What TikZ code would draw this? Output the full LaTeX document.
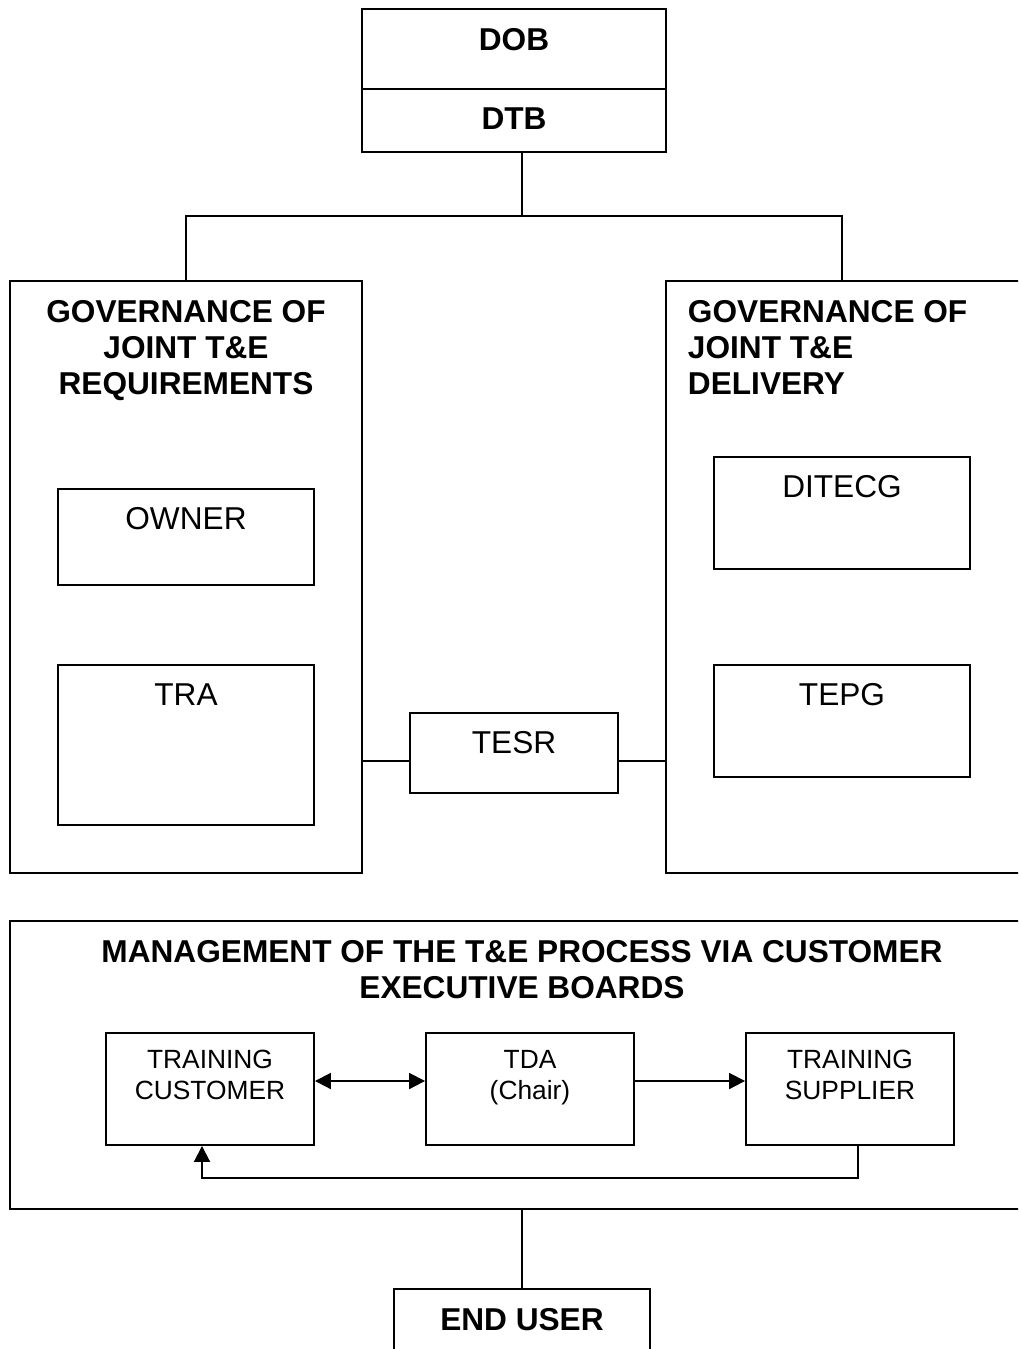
\documentclass[tikz,border=0pt]{standalone}
\usepackage{fontspec}
\setmainfont{Liberation Sans}
\usetikzlibrary{positioning,arrows.meta,calc}

\begin{document}
\begin{tikzpicture}[x=0.02cm,y=-0.02cm,line width=1.1pt,
  >={Triangle[length=0.32cm,width=0.32cm]},
  box/.style={draw,inner sep=0pt},
  bighead/.style={font=\bfseries\fontsize{18}{20.7}\selectfont,inner sep=0pt},
  plain/.style={font=\fontsize{18}{20.7}\selectfont,inner sep=0pt},
  small/.style={font=\fontsize{15}{17.6}\selectfont,inner sep=0pt,align=center}]
\clip (0,0) rectangle (1018,1349);
% top boards
\node[box,minimum width=6.08cm,minimum height=1.6cm] (dob) at (514,49) {};
\node[box,minimum width=6.08cm,minimum height=1.26cm] (dtb) at (514,120.5) {};
\node[bighead] (dobtxt) at (514,40) {DOB};
\node[bighead] (dtbtxt) at (514,119) {DTB};
% governance boxes
\node[box,minimum width=7.04cm,minimum height=11.84cm] (govreq) at (186,577) {};
\node[box,minimum width=7.12cm,minimum height=11.84cm] (govdel) at (844,577) {};
\node[bighead,align=center] (reqtxt) at (186,350.5) {GOVERNANCE OF\\JOINT T\&E\\REQUIREMENTS};
\node[bighead,align=left,anchor=west] (deltxt) at (687,347.5) {GOVERNANCE OF\\JOINT T\&E\\DELIVERY};
\node[box,minimum width=5.12cm,minimum height=1.92cm] (owner) at (186,537) {};
\node[box,minimum width=5.12cm,minimum height=3.2cm] (tra) at (186,745) {};
\node[box,minimum width=5.12cm,minimum height=2.24cm] (ditecg) at (842,513) {};
\node[box,minimum width=5.12cm,minimum height=2.24cm] (tepg) at (842,721) {};
\node[box,minimum width=4.16cm,minimum height=1.6cm] (tesr) at (514,753) {};
\node[plain] (ownertxt) at (186,519) {OWNER};
\node[plain] (tratxt) at (186,695) {TRA};
\node[plain] (ditecgtxt) at (842,487) {DITECG};
\node[plain] (tepgtxt) at (842,695) {TEPG};
\node[plain] (tesrtxt) at (514,743) {TESR};
% management
\node[box,minimum width=20.24cm,minimum height=5.76cm] (mgmt) at (516,1065) {};
\node[bighead,align=center] (mgmttxt) at (522,969.5) {MANAGEMENT OF THE T\&E PROCESS VIA CUSTOMER\\EXECUTIVE BOARDS};
\node[box,minimum width=4.16cm,minimum height=2.24cm] (tc) at (210,1089) {};
\node[box,minimum width=4.16cm,minimum height=2.24cm] (tda) at (530,1089) {};
\node[box,minimum width=4.16cm,minimum height=2.24cm] (ts) at (850,1089) {};
\node[small] (tctxt) at (210,1074.5) {TRAINING\\CUSTOMER};
\node[small] (tdatxt) at (530,1077.5) {TDA\\(Chair)};
\node[small] (tstxt) at (850,1074.5) {TRAINING\\SUPPLIER};
\node[box,minimum width=5.12cm,minimum height=1.6cm] (enduser) at (522,1329) {};
\node[bighead] (endtxt) at (522,1320) {END USER};
% connectors
\coordinate (bus) at (522,216);
\draw (bus |- dtb.south) -- (bus);
\draw (govreq.north) |- (bus) -| (tepg.north |- govdel.north);
\draw ([yshift=-0.16cm]tesr.west) -- ([yshift=-0.16cm]tesr.west -| govreq.east);
\draw ([yshift=-0.16cm]tesr.east) -- ([yshift=-0.16cm]tesr.east -| govdel.west);
\draw[<->] ([yshift=0.16cm]tc.east) -- ([yshift=0.16cm]tda.west);
\draw[->] ([yshift=0.16cm]tda.east) -- ([yshift=0.16cm]ts.west);
\draw[->] ([xshift=0.16cm]ts.south) -- ++(0,32) -| ([xshift=-0.16cm]tc.south);
\draw (enduser.north |- mgmt.south) -- (enduser.north);
\end{tikzpicture}
\end{document}
